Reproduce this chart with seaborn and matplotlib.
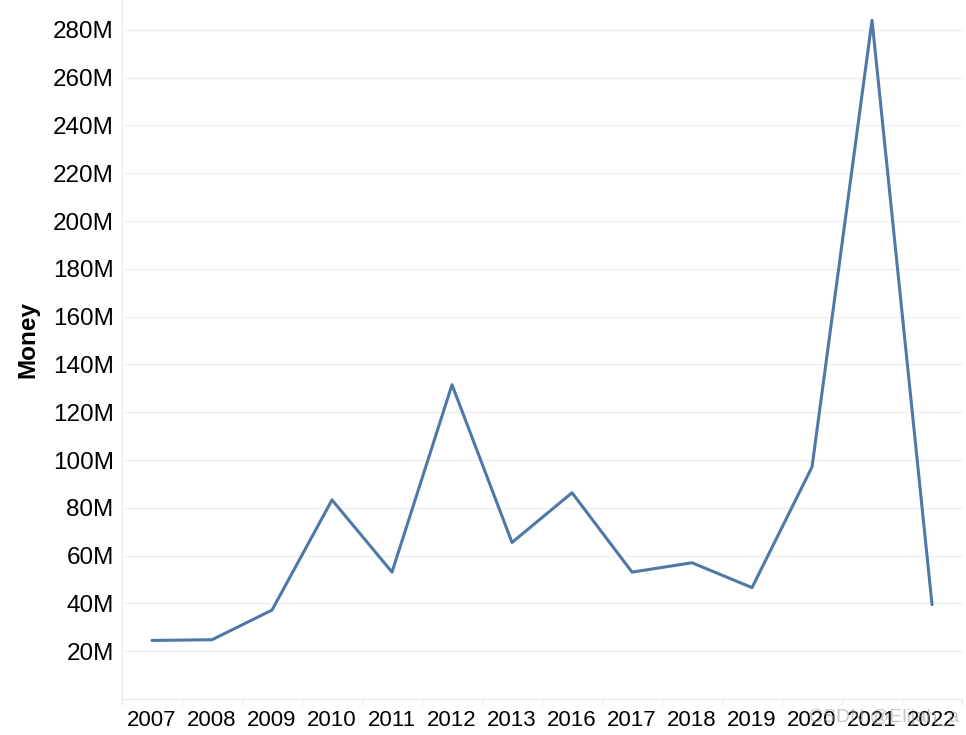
import numpy as np
import pandas as pd
import matplotlib.pyplot as plt
import seaborn as sns
from matplotlib.ticker import FixedLocator, FuncFormatter

# data (values in millions)
years = ["2007", "2008", "2009", "2010", "2011", "2012", "2013",
         "2016", "2017", "2018", "2019", "2020", "2021", "2022"]
money = [24.5, 24.8, 37.2, 83.3, 53.1, 131.5, 65.5,
         86.3, 53.1, 57.0, 46.6, 97.1, 284.0, 39.5]
y_ticks = [20, 40, 60, 80, 100, 120, 140, 160, 180, 200, 220, 240, 260, 280]

df = pd.DataFrame({"year": years, "money": money})

sns.set_theme(style="white")
plt.rcParams["font.family"] = ["Liberation Sans", "DejaVu Sans"]

fig = plt.figure(figsize=(9.66, 7.35), dpi=100)
ax = fig.add_axes([0.1263, 0.049, 0.8696, 0.951])

sns.lineplot(data=df, x="year", y="money", sort=False, color="#4e79a7",
             linewidth=2.2, ax=ax)

ax.set_xlim(-0.5, len(years) - 0.5)
ax.set_ylim(0, 292.5)
ax.set_yticks(y_ticks)
ax.yaxis.set_major_formatter(FuncFormatter(lambda v, p: f"{int(v)}M"))
ax.grid(axis="y", color="#efefef", linewidth=0.9)
ax.set_axisbelow(True)

ax.xaxis.set_minor_locator(FixedLocator(np.arange(-0.5, len(years), 1.0)))
ax.tick_params(axis="x", which="major", length=0, labelsize=16, pad=8, colors="black")
ax.tick_params(axis="x", which="minor", length=4, width=0.8, color="#e6e6e6", bottom=True)
ax.tick_params(axis="y", length=0, labelsize=17.5, pad=6, colors="black")

for s in ["top", "right"]:
    ax.spines[s].set_visible(False)
ax.spines["left"].set_color("#ececec")
ax.spines["bottom"].set_color("#ececec")
ax.spines["left"].set_linewidth(0.9)
ax.spines["bottom"].set_linewidth(0.9)

ax.set_xlabel("")
ax.set_ylabel("Money", fontsize=17.5, fontweight="bold", color="black")
ax.yaxis.set_label_coords(-0.098, 0.514)

fig.text(0.915, 0.024, "CSDN @Elijah_a", fontsize=14, color="#999999",
         alpha=0.55, ha="center", va="center")

fig.savefig("out.png", dpi=100)
